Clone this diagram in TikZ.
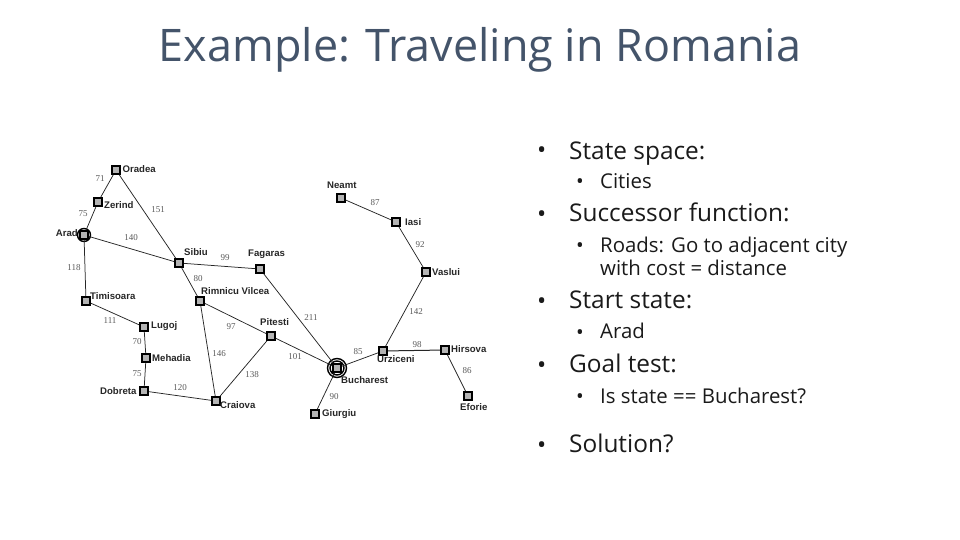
\documentclass[tikz,border=0pt]{standalone}
\usepackage{fontspec}
\setmainfont{Open Sans}
\newfontfamily\mapsans{Liberation Sans}
\newfontfamily\mapserif{Liberation Serif}
\definecolor{titlec}{HTML}{44546A}
\definecolor{bodyc}{HTML}{1A1A1A}
\definecolor{fillc}{HTML}{B4B4B4}
\tikzset{
 x=1pt,y=-1pt,
 city/.style={draw=black,line width=2.2pt,fill=fillc,minimum size=7.8pt,inner sep=0pt,rectangle},
 road/.style={draw=black!85,line width=0.75pt},
 cname/.style={font=\mapsans\bfseries\fontsize{9.6}{11}\selectfont,text=black!85,inner sep=0pt},
 dist/.style={font=\mapserif\fontsize{9}{10}\selectfont,text=black!65,inner sep=0pt},
 ring/.style={draw=black,line width=1.4pt,circle,inner sep=0pt},
 lone/.style={font=\fontsize{24.4}{28}\selectfont,text=bodyc,anchor=base west,inner sep=0pt},
 ltwo/.style={font=\fontsize{20.4}{24}\selectfont,text=bodyc,anchor=base west,inner sep=0pt},
 title/.style={font=\fontsize{44.9}{52}\selectfont,text=titlec,anchor=base,inner sep=0pt}
}
\begin{document}
\begin{tikzpicture}
\useasboundingbox (0,0) rectangle (960,540);
\node[title] (ttl) at (480,62) {Example: Traveling in Romania};
% rings
\node[ring,minimum size=13pt] (ra) at (84,235) {};
\node[ring,minimum size=19pt] (rb1) at (337,368) {};
\node[ring,minimum size=14pt] (rb2) at (337,368) {};
% cities
\node[city] (Oradea) at (116,170) {};
\node[city] (Zerind) at (98,202) {};
\node[city] (Arad) at (84,235) {};
\node[city] (Sibiu) at (179,263) {};
\node[city] (Fagaras) at (260,269) {};
\node[city] (Rimnicu) at (200,301) {};
\node[city] (Timisoara) at (86,301) {};
\node[city] (Lugoj) at (144,327) {};
\node[city] (Mehadia) at (146,358) {};
\node[city] (Dobreta) at (144,391) {};
\node[city] (Craiova) at (216,401) {};
\node[city] (Pitesti) at (271,336) {};
\node[city] (Bucharest) at (337,368) {};
\node[city] (Urziceni) at (383,351) {};
\node[city] (Hirsova) at (445,350) {};
\node[city] (Eforie) at (468,396) {};
\node[city] (Giurgiu) at (315,414) {};
\node[city] (Neamt) at (341,198) {};
\node[city] (Iasi) at (396,222) {};
\node[city] (Vaslui) at (426,272) {};
% roads
\draw[road] (Oradea) -- (Zerind);
\draw[road] (Zerind) -- (Arad);
\draw[road] (Oradea) -- (Sibiu);
\draw[road] (Arad) -- (Sibiu);
\draw[road] (Arad) -- (Timisoara);
\draw[road] (Sibiu) -- (Fagaras);
\draw[road] (Sibiu) -- (Rimnicu);
\draw[road] (Fagaras) -- (Bucharest);
\draw[road] (Rimnicu) -- (Pitesti);
\draw[road] (Rimnicu) -- (Craiova);
\draw[road] (Timisoara) -- (Lugoj);
\draw[road] (Lugoj) -- (Mehadia);
\draw[road] (Mehadia) -- (Dobreta);
\draw[road] (Dobreta) -- (Craiova);
\draw[road] (Craiova) -- (Pitesti);
\draw[road] (Pitesti) -- (Bucharest);
\draw[road] (Bucharest) -- (Urziceni);
\draw[road] (Bucharest) -- (Giurgiu);
\draw[road,line width=1pt] (Urziceni) -- (Hirsova);
\draw[road] (Urziceni) -- (Vaslui);
\draw[road] (Hirsova) -- (Eforie);
\draw[road] (Vaslui) -- (Iasi);
\draw[road] (Iasi) -- (Neamt);
% city names
\node[cname,anchor=west] (tOradea) at (122.5,169) {Oradea};
\node[cname,anchor=west] (tZerind) at (104,205) {Zerind};
\node[cname,anchor=east] (tArad) at (78,233) {Arad};
\node[cname,anchor=west] (tSibiu) at (184,252) {Sibiu};
\node[cname,anchor=west] (tFagaras) at (248,254) {Fagaras};
\node[cname,anchor=west] (tRimnicu) at (201,291) {Rimnicu Vilcea};
\node[cname,anchor=west] (tTimisoara) at (90,296) {Timisoara};
\node[cname,anchor=west] (tLugoj) at (151,326) {Lugoj};
\node[cname,anchor=west] (tMehadia) at (152,358) {Mehadia};
\node[cname,anchor=west] (tDobreta) at (100,391) {Dobreta};
\node[cname,anchor=west] (tCraiova) at (220,405) {Craiova};
\node[cname,anchor=west] (tPitesti) at (260,322) {Pitesti};
\node[cname,anchor=west] (tBucharest) at (341,380) {Bucharest};
\node[cname,anchor=west] (tUrziceni) at (377,359) {Urziceni};
\node[cname,anchor=west] (tHirsova) at (451,349) {Hirsova};
\node[cname,anchor=west] (tEforie) at (460,407) {Eforie};
\node[cname,anchor=west] (tGiurgiu) at (322,414) {Giurgiu};
\node[cname,anchor=west] (tNeamt) at (327,185) {Neamt};
\node[cname,anchor=west] (tIasi) at (405,222) {Iasi};
\node[cname,anchor=west] (tVaslui) at (432,272) {Vaslui};
% distances
\node[dist] (d1) at (100,179) {71};
\node[dist] (d2) at (83,214) {75};
\node[dist] (d3) at (158,210) {151};
\node[dist] (d4) at (131,238) {140};
\node[dist] (d5) at (74,268) {118};
\node[dist] (d6) at (225,258) {99};
\node[dist] (d7) at (198,279) {80};
\node[dist] (d8) at (311,318) {211};
\node[dist] (d9) at (231,327) {97};
\node[dist] (d10) at (219,354) {146};
\node[dist] (d11) at (252,375) {138};
\node[dist] (d12) at (110,321) {111};
\node[dist] (d13) at (137,342) {70};
\node[dist] (d14) at (137,374) {75};
\node[dist] (d15) at (180,388) {120};
\node[dist] (d16) at (295,357) {101};
\node[dist] (d17) at (358,352) {85};
\node[dist] (d18) at (334,397) {90};
\node[dist] (d19) at (417,345) {98};
\node[dist] (d20) at (467,371) {86};
\node[dist] (d21) at (416,312) {142};
\node[dist] (d22) at (420,245) {92};
\node[dist] (d23) at (375,203) {87};
% bullets level one
\foreach \nm/\yy in {p1/159,p2/222,p3/309,p4/373,p5/453}
  \node[lone] (\nm) at (537,\yy) {•};
\node[lone] (a0) at (569,159.5) {State space:};
\node[lone] (b0) at (569,221.7) {Successor function:};
\node[lone] (c0) at (569,308.7) {Start state:};
\node[lone] (e0) at (569,372.7) {Goal test:};
\node[lone] (f0) at (569,452.7) {Solution?};
% bullets level two
\foreach \nm/\yy in {q1/188,q2/252,q3/339,q4/403}
  \node[ltwo] (\nm) at (576,\yy) {•};
\node[ltwo] (a1) at (600,188) {Cities};
\node[ltwo] (b1) at (600,252) {Roads: Go to adjacent city};
\node[ltwo] (b2) at (600,275.5) {with cost = distance};
\node[ltwo] (c1) at (600,338.7) {Arad};
\node[ltwo] (e1) at (600,403) {Is state == Bucharest?};
\end{tikzpicture}
\end{document}
